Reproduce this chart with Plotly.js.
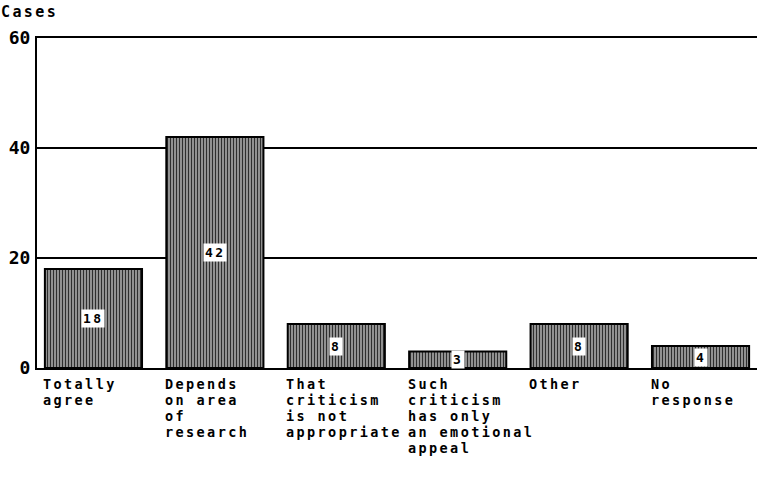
<!DOCTYPE html>
<html>
<head>
<meta charset="utf-8">
<script src="https://cdn.plot.ly/plotly-3.0.1.min.js"></script>
<style>
html,body{margin:0;padding:0;background:#fff;}
#chart{width:757px;height:486px;}
.annotation-text{letter-spacing:2.4px;}
</style>
</head>
<body>
<div id="chart"></div>
<script>
// Data
const categories = ["Totally agree", "Depends on area of research", "That criticism is not appropriate", "Such criticism has only an emotional appeal", "Other", "No response"];
const categoryLines = [
  ["Totally", "agree"],
  ["Depends", "on area", "of", "research"],
  ["That", "criticism", "is not", "appropriate"],
  ["Such", "criticism", "has only", "an emotional", "appeal"],
  ["Other"],
  ["No", "response"]
];
const cases = [18, 42, 8, 3, 8, 4];
const yTicks = [0, 20, 40, 60];
const yTitle = "Cases";

const FONT = "DejaVu Sans Mono, Liberation Mono, monospace";
const idx = categories.map((c, i) => i);

const trace = {
  type: "bar",
  x: idx,
  y: cases,
  width: 0.8,
  marker: {
    color: "#7a7a7a",
    line: {color: "#000", width: 2},
    pattern: {shape: "|", fgcolor: "#2e2e2e", bgcolor: "#9c9c9c", size: 3, solidity: 0.4}
  },
  hoverinfo: "skip"
};

const annotations = [];
// value labels in white boxes at bar centres
cases.forEach((v, i) => {
  annotations.push({
    x: i, y: v / 2, xref: "x", yref: "y",
    text: String(v), showarrow: false,
    bgcolor: "#fff", borderpad: 1,
    font: {family: FONT, size: 13, color: "#000", weight: "bold"}
  });
});
// category labels, left-aligned under each bar
categoryLines.forEach((lines, i) => {
  lines.forEach((t, j) => {
    annotations.push({
      x: i - 0.42, y: 0, xref: "x", yref: "paper",
      xanchor: "left", yanchor: "top", align: "left",
      yshift: -7 - j * 16, borderpad: 0,
      text: t, showarrow: false,
      font: {family: FONT, size: 13.5, color: "#000", weight: "bold"}
    });
  });
});
// axis title at top-left
annotations.push({
  x: 0, y: 1, xref: "paper", yref: "paper",
  xanchor: "left", yanchor: "bottom",
  xshift: -37, yshift: 16, borderpad: 0,
  text: yTitle, showarrow: false,
  font: {family: FONT, size: 15, color: "#000", weight: "bold"}
});

const layout = {
  width: 757, height: 486,
  margin: {l: 37, r: 0, t: 38, b: 118, pad: 0},
  paper_bgcolor: "#fff", plot_bgcolor: "#fff",
  showlegend: false,
  xaxis: {
    range: [-0.465, 5.465],
    showticklabels: false, ticks: "",
    showgrid: false, zeroline: false,
    showline: true, mirror: true, linecolor: "#000", linewidth: 2
  },
  yaxis: {
    range: [0, 60],
    tickvals: yTicks, ticktext: yTicks.map(String),
    ticks: "", ticklabelstandoff: 1,
    tickfont: {family: FONT, size: 18, color: "#000", weight: "bold"},
    showgrid: true, gridcolor: "#000", gridwidth: 2,
    zeroline: false,
    showline: true, linecolor: "#000", linewidth: 2
  },
  annotations: annotations
};

Plotly.newPlot("chart", [trace], layout, {staticPlot: true, displayModeBar: false});
</script>
</body>
</html>
